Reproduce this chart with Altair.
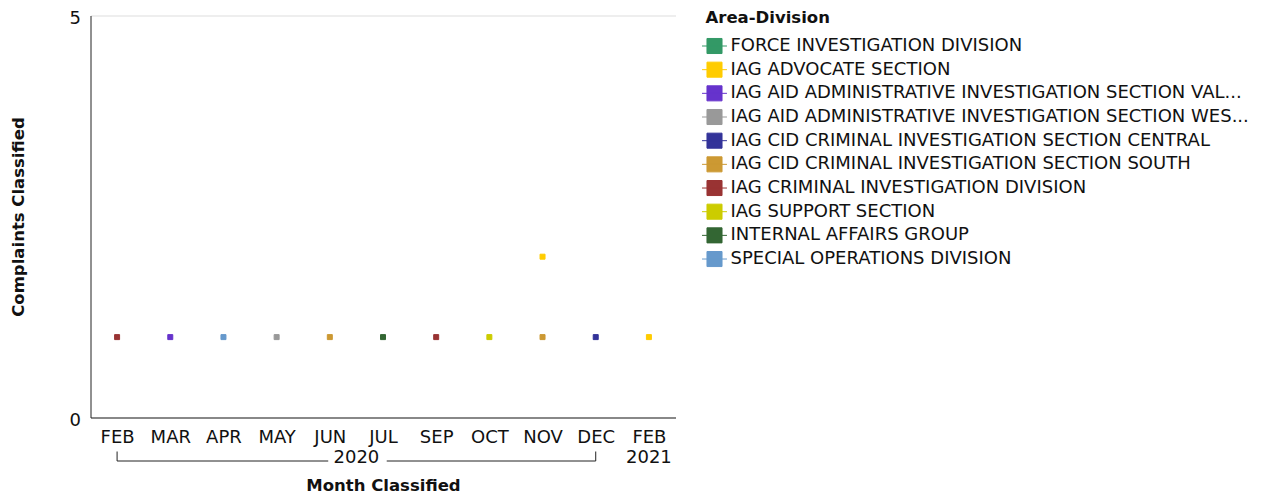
import altair as alt
import pandas as pd

FONT = "DejaVu Sans"

months = ["FEB 2020", "MAR 2020", "APR 2020", "MAY 2020", "JUN 2020", "JUL 2020",
          "SEP 2020", "OCT 2020", "NOV 2020", "DEC 2020", "FEB 2021"]

divisions = [
    "FORCE INVESTIGATION DIVISION",
    "IAG ADVOCATE SECTION",
    "IAG AID ADMINISTRATIVE INVESTIGATION SECTION VALLEY",
    "IAG AID ADMINISTRATIVE INVESTIGATION SECTION WEST",
    "IAG CID CRIMINAL INVESTIGATION SECTION CENTRAL",
    "IAG CID CRIMINAL INVESTIGATION SECTION SOUTH",
    "IAG CRIMINAL INVESTIGATION DIVISION",
    "IAG SUPPORT SECTION",
    "INTERNAL AFFAIRS GROUP",
    "SPECIAL OPERATIONS DIVISION",
]
colors = ["#339966", "#ffcc00", "#6633cc", "#999999", "#333399",
          "#cc9933", "#993333", "#cccc00", "#336633", "#6699cc"]

pt_month = ["FEB 2020", "MAR 2020", "APR 2020", "MAY 2020", "JUN 2020", "JUL 2020",
            "SEP 2020", "OCT 2020", "NOV 2020", "NOV 2020", "DEC 2020", "FEB 2021"]
pt_div = [
    "IAG CRIMINAL INVESTIGATION DIVISION",
    "IAG AID ADMINISTRATIVE INVESTIGATION SECTION VALLEY",
    "SPECIAL OPERATIONS DIVISION",
    "IAG AID ADMINISTRATIVE INVESTIGATION SECTION WEST",
    "IAG CID CRIMINAL INVESTIGATION SECTION SOUTH",
    "INTERNAL AFFAIRS GROUP",
    "IAG CRIMINAL INVESTIGATION DIVISION",
    "IAG SUPPORT SECTION",
    "IAG ADVOCATE SECTION",
    "IAG CID CRIMINAL INVESTIGATION SECTION SOUTH",
    "IAG CID CRIMINAL INVESTIGATION SECTION CENTRAL",
    "IAG ADVOCATE SECTION",
]
pt_value = [1, 1, 1, 1, 1, 1, 1, 1, 2, 1, 1, 1]

years = ["2020", "2021"]
year_start = [0, 10]
year_end = [9, 10]

W, H = 585, 402
TXT = "#111111"
AX = "#222222"

pts = pd.DataFrame({"month": pt_month, "division": pt_div, "value": pt_value})
yr = pd.DataFrame({"year": years, "start": year_start, "end": year_end})
yr["mid"] = (yr["start"] + yr["end"]) / 2
yr["left_end"] = yr["mid"] - 0.53
yr["right_start"] = yr["mid"] + 0.57
brk = yr[yr["end"] > yr["start"]]

legend_symbol = "M-0.94,-0.94H0.94V0.94H-0.94Z M-1.56,0H1.56"
lbl_expr = "length(datum.label) > 48 ? substring(datum.label, 0, 48) + '...' : datum.label"

div_scale = alt.Scale(domain=divisions, range=colors)
div_legend = alt.Legend(orient="none", legendX=615, legendY=-5.5,
                        symbolType=legend_symbol, symbolSize=256, symbolStrokeWidth=1,
                        labelFontSize=18, labelFont=FONT, labelColor=TXT, labelOffset=7,
                        titleFontSize=16.5, titleFont=FONT, titleColor=TXT,
                        titleFontWeight="bold", titlePadding=10.5, labelLimit=600,
                        rowPadding=3.67, labelExpr=lbl_expr)

points = alt.Chart(pts).mark_square(opacity=1, strokeWidth=1).encode(
    x=alt.X("month:O", sort=months, scale=alt.Scale(domain=months, paddingInner=0, paddingOuter=0),
            title="Month Classified",
            axis=alt.Axis(labelExpr="split(datum.label, ' ')[0]", labelAngle=0, ticks=False,
                          domainColor=AX, labelFontSize=18, labelFont=FONT, labelColor=TXT,
                          labelPadding=11, titlePadding=31, titleFontSize=16.5, titleFont=FONT,
                          titleFontWeight="bold", titleColor=TXT)),
    y=alt.Y("value:Q", scale=alt.Scale(domain=[0, 5]), title="Complaints Classified",
            axis=alt.Axis(values=[0, 5], ticks=False, grid=True, gridColor="#dddddd",
                          domainColor=AX, labelFontSize=18, labelFont=FONT, labelColor=TXT,
                          labelPadding=10, labelOffset=3, titlePadding=43, titleFontSize=16.5,
                          titleFont=FONT, titleFontWeight="bold", titleColor=TXT)),
    color=alt.Color("division:N", scale=div_scale, title="Area-Division", legend=div_legend),
    stroke=alt.Stroke("division:N", scale=div_scale, title="Area-Division", legend=div_legend),
)

xq = alt.Scale(domain=[-0.5, len(months) - 0.5])

year_text = alt.Chart(yr).mark_text(fontSize=18, font=FONT, color=TXT, baseline="middle").encode(
    x=alt.X("mid:Q", scale=xq, axis=None),
    y=alt.value(H + 40),
    text="year:N",
)
rule_l = alt.Chart(brk).mark_rule(color=AX, strokeWidth=1).encode(
    x=alt.X("start:Q", scale=xq, axis=None), x2="left_end:Q", y=alt.value(H + 43.5))
rule_r = alt.Chart(brk).mark_rule(color=AX, strokeWidth=1).encode(
    x=alt.X("right_start:Q", scale=xq, axis=None), x2="end:Q", y=alt.value(H + 43.5))
tick_s = alt.Chart(brk).mark_rule(color=AX, strokeWidth=1).encode(
    x=alt.X("start:Q", scale=xq, axis=None), y=alt.value(H + 34), y2=alt.value(H + 43.5))
tick_e = alt.Chart(brk).mark_rule(color=AX, strokeWidth=1).encode(
    x=alt.X("end:Q", scale=xq, axis=None), y=alt.value(H + 34), y2=alt.value(H + 43.5))

chart = alt.layer(points, year_text, rule_l, rule_r, tick_s, tick_e).resolve_scale(
    x="independent"
).properties(width=W, height=H, padding={"left": 1.5, "top": 1.5, "right": 5, "bottom": 0}
).configure(font=FONT).configure_view(stroke=None).configure_square(size=25)

chart.save("out.html", embed_options={"renderer": "svg", "actions": False})
